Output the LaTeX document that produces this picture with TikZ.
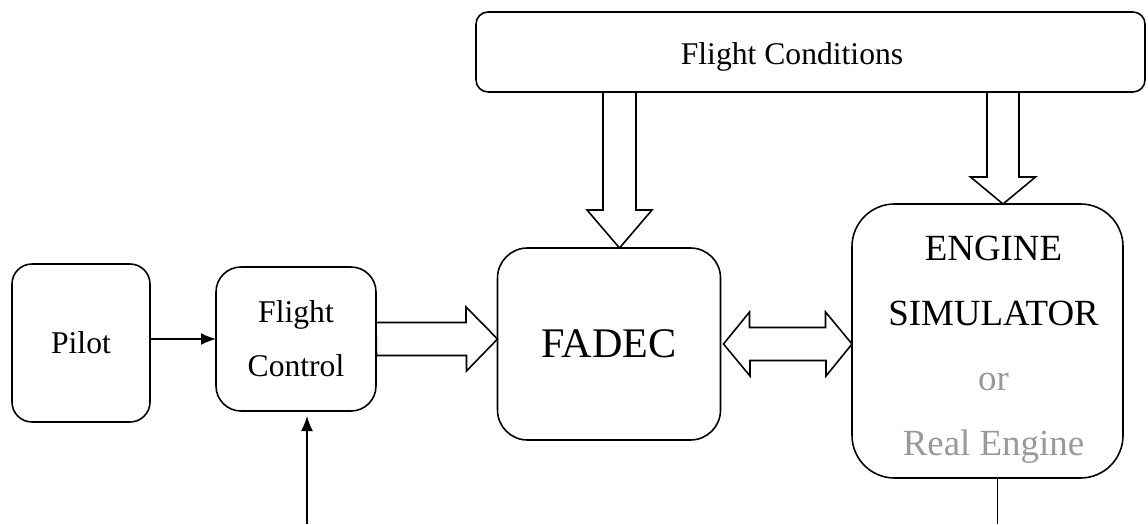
\documentclass[tikz,border=0pt]{standalone}
\usepackage{fontspec}
\setmainfont{Liberation Serif}
\usepackage{tikz}
\usetikzlibrary{positioning,calc,arrows.meta}
\definecolor{realgray}{gray}{0.6}

\begin{document}
\begin{tikzpicture}[
  blk/.style={draw,line width=0.9pt,inner sep=0pt,outer sep=0pt,align=center},
  fat/.style={draw,line width=0.9pt,line join=miter},
  sig/.style={line width=0.9pt,-{Latex[length=0.3cm,width=0.24cm]}}
]
\useasboundingbox (0,0) rectangle (22.96,10.48);

% Blocks
\node[blk,rounded corners=0.4cm,minimum width=2.76cm,minimum height=3.16cm,font=\fontsize{18}{22}\selectfont] (pilot) at (1.62,3.62) {Pilot};
\node[blk,rounded corners=0.5cm,minimum width=3.2cm,minimum height=2.88cm,font=\fontsize{18}{30.6}\selectfont] (fc) at (5.92,3.7) {Flight\\Control};
\node[blk,rounded corners=0.6cm,minimum width=4.46cm,minimum height=3.84cm,font=\fontsize{24}{28}\selectfont] (fadec) at (12.18,3.6) {FADEC};
\node[blk,rounded corners=0.85cm,minimum width=5.42cm,minimum height=5.48cm] (engine) at (19.75,3.66) {};
\node[align=center,font=\fontsize{21}{37}\selectfont] (enginetxt) at ($(engine.center)+(0.12,-0.18)$)
  {ENGINE\\SIMULATOR\\\textcolor{realgray}{or}\\\textcolor{realgray}{Real Engine}};
\node[blk,rounded corners=0.24cm,minimum width=13.38cm,minimum height=1.6cm] (cond) at (16.21,9.44) {};
\node[font=\fontsize{18}{22}\selectfont] (condtxt) at ($(cond.center)+(-0.37,-0.1)$) {Flight Conditions};

% Thin signals
\draw[sig] (pilot.east |- fc.west) -- (fc.west);
\coordinate (fcin) at ($(fc.south)+(0.22,-2.26)$);
\draw[sig] (fcin) -- ($(fc.south)+(0.22,-0.1)$);
\coordinate (engout) at ($(engine.south)+(0.2,-0.92)$);
\draw[line width=0.9pt] ($(engine.south)+(0.2,0)$) -- (engout);

% Fat arrows
\draw[fat] ([yshift=0.33cm]fc.east) -- ++(1.80,0) -- ++(0,0.31) -- (fc.east -| fadec.west)
  -- ++(-0.62,-0.64) -- ++(0,0.31) -- ++(-1.80,0) -- cycle;
\draw[fat] ([xshift=0.06cm]fadec.east) -- ++(0.52,0.64) -- ++(0,-0.31) -- ++(1.52,0) -- ++(0,0.31)
  -- (fadec.east -| engine.west) -- ++(-0.52,-0.64) -- ++(0,0.31) -- ++(-1.52,0) -- ++(0,-0.31) -- cycle;
\draw[fat] ($(cond.south -| fadec.north)+(-0.12,0)$) -- ++(0,-2.36) -- ++(-0.32,0) -- ($(fadec.north)+(0.21,0)$)
  -- ++(0.65,0.76) -- ++(-0.32,0) -- ++(0,2.36) -- cycle;
\draw[fat] ($(cond.south -| engine.north)+(-0.01,0)$) -- ++(0,-1.70) -- ++(-0.33,0) -- ($(engine.north)+(0.31,0)$)
  -- ++(0.65,0.54) -- ++(-0.33,0) -- ++(0,1.70) -- cycle;
\end{tikzpicture}
\end{document}
